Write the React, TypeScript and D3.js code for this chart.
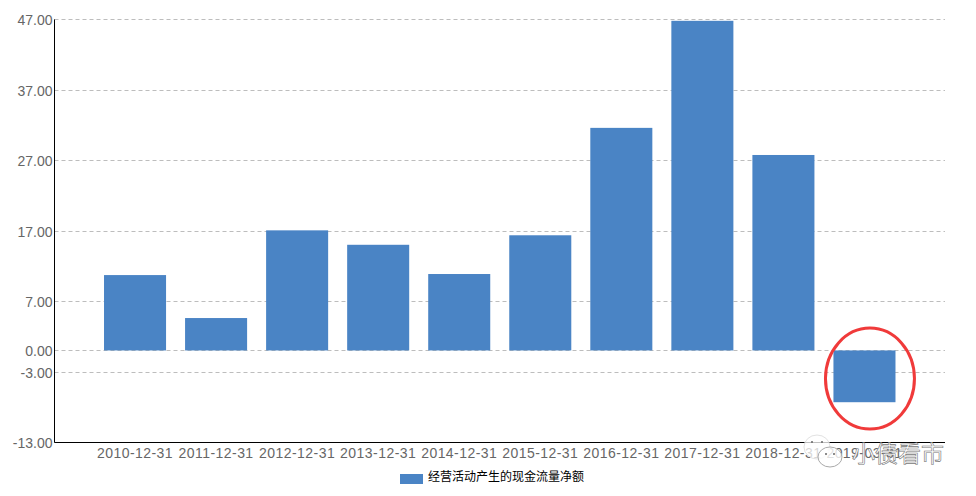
// @ts-nocheck
import { useEffect, useRef } from 'react';
import * as d3 from 'd3';

const categories = [
  '2010-12-31', '2011-12-31', '2012-12-31', '2013-12-31', '2014-12-31',
  '2015-12-31', '2016-12-31', '2017-12-31', '2018-12-31', '2019-03-31',
];
const values = [10.7, 4.6, 17.05, 15.0, 10.85, 16.35, 31.6, 46.8, 27.75, -7.35];
const yTicks = [47, 37, 27, 17, 7, 0, -3, -13];
const legendLabel = '经营活动产生的现金流量净额';
const watermark = '小债看市';

const width = 976;
const height = 496;
const left = 54.5;
const right = 945;
const top = 19.4;
const bottom = 442;
const blue = '#4a84c5';
const font = '"Liberation Sans", sans-serif';
const cjk = '"Noto Sans CJK SC", sans-serif';

export default function App() {
  const svgRef = useRef<SVGSVGElement>(null);

  useEffect(() => {
    if (!svgRef.current) return;
    const svg = d3.select(svgRef.current);
    svg.selectAll('*').remove();

    const x = d3.scaleBand().domain(categories).range([left, right]).paddingInner(0.2346).paddingOuter(0.611);
    const y = d3.scaleLinear().domain([-13, 47]).range([bottom, top]);

    // grid lines + y labels
    yTicks.forEach((t) => {
      const py = Math.round(y(t)) + 0.5;
      svg.append('line')
        .attr('x1', left).attr('x2', right)
        .attr('y1', py).attr('y2', py)
        .attr('stroke', '#bdbdbd').attr('stroke-width', 1)
        .attr('stroke-dasharray', '4 3');
      svg.append('text')
        .attr('x', left - 2).attr('y', py)
        .attr('text-anchor', 'end').attr('dominant-baseline', 'central')
        .attr('font-family', font).attr('font-size', 14).attr('fill', '#666')
        .text(t.toFixed(2));
    });

    // bars
    svg.append('g').selectAll('rect').data(values).join('rect')
      .attr('x', (_, i) => x(categories[i]))
      .attr('width', x.bandwidth())
      .attr('y', (d) => y(Math.max(d, 0)))
      .attr('height', (d) => Math.abs(y(d) - y(0)))
      .attr('fill', blue);

    // axes
    svg.append('line').attr('x1', left).attr('x2', left).attr('y1', top).attr('y2', bottom + 0.5)
      .attr('stroke', '#000').attr('stroke-width', 1);
    svg.append('line').attr('x1', left).attr('x2', right).attr('y1', bottom + 0.5).attr('y2', bottom + 0.5)
      .attr('stroke', '#000').attr('stroke-width', 1);

    categories.forEach((c) => {
      svg.append('text')
        .attr('x', x(c) + x.bandwidth() / 2).attr('y', 458)
        .attr('text-anchor', 'middle')
        .attr('font-family', font).attr('font-size', 14).attr('letter-spacing', 0.45).attr('fill', '#666')
        .text(c);
    });

    // legend
    svg.append('rect').attr('x', 400).attr('y', 474).attr('width', 23).attr('height', 10).attr('fill', blue);
    svg.append('text')
      .attr('x', 428).attr('y', 481)
      .attr('font-family', cjk).attr('font-size', 12).attr('fill', '#000')
      .text(legendLabel);

    // red hand-drawn circle around the last bar
    const last = categories[categories.length - 1];
    svg.append('ellipse')
      .attr('cx', x(last) + x.bandwidth() / 2 + 5.5).attr('cy', y(-4))
      .attr('rx', 44.5).attr('ry', 50.5)
      .attr('fill', 'none').attr('stroke', '#f03a3a').attr('stroke-width', 3);

    // watermark
    svg.append('ellipse').attr('cx', 817).attr('cy', 447).attr('rx', 13).attr('ry', 12)
      .attr('fill', 'rgba(255,255,255,0.75)').attr('stroke', '#e2e2e2');
    svg.append('ellipse').attr('cx', 830).attr('cy', 457).attr('rx', 12).attr('ry', 10)
      .attr('fill', 'rgba(255,255,255,0.8)').attr('stroke', '#aaa');
    [[812, 442], [822, 442], [826, 454], [834, 454]].forEach(([cx, cy]) => {
      svg.append('circle').attr('cx', cx).attr('cy', cy).attr('r', 1).attr('fill', '#666');
    });
    svg.append('text')
      .attr('x', 852).attr('y', 462)
      .attr('font-family', cjk).attr('font-size', 23).attr('fill', '#fff')
      .attr('stroke', '#777').attr('stroke-width', 0.6)
      .text(watermark);
  }, []);

  return (
    <svg ref={svgRef} width={width} height={height}
      style={{ position: 'absolute', left: 0, top: 0, background: '#fff' }} />
  );
}
